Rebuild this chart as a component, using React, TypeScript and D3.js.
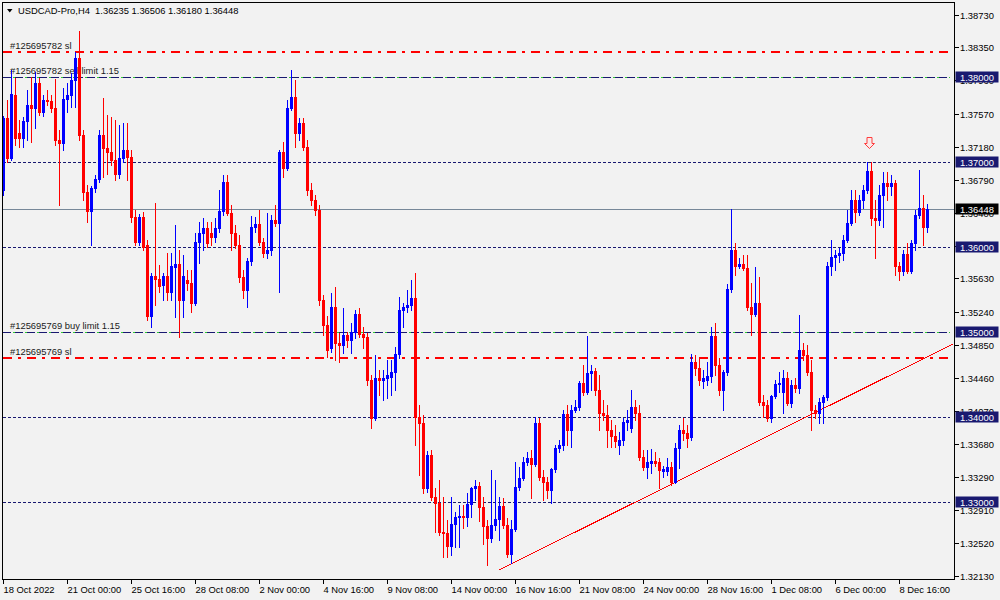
import React, { useEffect, useRef } from "react";
import * as d3 from "d3";

// USDCAD H4 bars (oldest first)
const opens = [
  1.3667, 1.3752, 1.3705, 1.3779, 1.3734, 1.3728, 1.3748, 1.3767, 1.3764, 1.3793,
  1.3759, 1.3773, 1.3772, 1.3764, 1.3726, 1.3722, 1.3774, 1.3779, 1.3796, 1.3822,
  1.3732, 1.3665, 1.3642, 1.3669, 1.3680, 1.3732, 1.3717, 1.3712, 1.3702, 1.3686,
  1.3705, 1.3714, 1.3706, 1.3635, 1.3606, 1.3635, 1.3602, 1.3519, 1.3566, 1.3562,
  1.3555, 1.3566, 1.3547, 1.3576, 1.3580, 1.3538, 1.3561, 1.3558, 1.3534, 1.3606,
  1.3616, 1.3622, 1.3616, 1.3612, 1.3622, 1.3642, 1.3676, 1.3640, 1.3616, 1.3602,
  1.3565, 1.3549, 1.3584, 1.3624, 1.3627, 1.3606, 1.3593, 1.3596, 1.3632, 1.3628,
  1.3712, 1.3693, 1.3764, 1.3776, 1.3734, 1.3746, 1.3718, 1.3667, 1.3655, 1.3644,
  1.3538, 1.3508, 1.3481, 1.3530, 1.3487, 1.3485, 1.3496, 1.3491, 1.3500, 1.3521,
  1.3498, 1.3494, 1.3444, 1.3399, 1.3446, 1.3444, 1.3446, 1.3447, 1.3453, 1.3474,
  1.3526, 1.3530, 1.3532, 1.3540, 1.3400, 1.3393, 1.3316, 1.3355, 1.3306, 1.3299,
  1.3265, 1.3264, 1.3248, 1.3274, 1.3282, 1.3284, 1.3282, 1.3298, 1.3316, 1.3319,
  1.3294, 1.3272, 1.3258, 1.3273, 1.3280, 1.3295, 1.3273, 1.3239, 1.3268, 1.3318,
  1.3328, 1.3347, 1.3352, 1.3345, 1.3393, 1.3329, 1.3324, 1.3314, 1.3339, 1.3363,
  1.3367, 1.3403, 1.3385, 1.3408, 1.3412, 1.3440, 1.3429, 1.3452, 1.3454, 1.3432,
  1.3405, 1.3402, 1.3385, 1.3378, 1.3367, 1.3373, 1.3394, 1.3387, 1.3412, 1.3405,
  1.3353, 1.3341, 1.3346, 1.3348, 1.3347, 1.3336, 1.3336, 1.3341, 1.3324, 1.3363,
  1.3385, 1.3381, 1.3376, 1.3465, 1.3458, 1.3442, 1.3444, 1.3448, 1.3495, 1.3461,
  1.3432, 1.3453, 1.3551, 1.3596, 1.3578, 1.3580, 1.3575, 1.3530, 1.3521, 1.3534,
  1.3418, 1.3414, 1.3399, 1.3425, 1.3439, 1.3429, 1.3446, 1.3416, 1.3438, 1.3434,
  1.3479, 1.3473, 1.3453, 1.3408, 1.3405, 1.3418, 1.3424, 1.3578, 1.3588, 1.3591,
  1.3593, 1.3608, 1.3628, 1.3655, 1.3641, 1.3655, 1.3667, 1.3689, 1.3634, 1.3632,
  1.3661, 1.3675, 1.3672, 1.3675, 1.3578, 1.3572, 1.3592, 1.3572, 1.3605, 1.3638,
  1.3646, 1.36235
];
const highs = [
  1.3754, 1.3773, 1.3808, 1.3799, 1.3749, 1.3753, 1.3785, 1.3800, 1.3806, 1.3799,
  1.3779, 1.3785, 1.3779, 1.3798, 1.3738, 1.3787, 1.3793, 1.3805, 1.3829, 1.3854,
  1.3738, 1.3673, 1.3672, 1.3685, 1.3738, 1.3775, 1.3755, 1.3753, 1.3749, 1.3744,
  1.3746, 1.3746, 1.3714, 1.3644, 1.3639, 1.3641, 1.3608, 1.3570, 1.3652, 1.3579,
  1.3570, 1.3593, 1.3593, 1.3626, 1.3596, 1.3591, 1.3573, 1.3573, 1.3616, 1.3629,
  1.3634, 1.3629, 1.3629, 1.3634, 1.3667, 1.3685, 1.3685, 1.3649, 1.3626, 1.3614,
  1.3573, 1.3587, 1.3636, 1.3635, 1.3644, 1.3611, 1.3640, 1.3638, 1.3649, 1.3714,
  1.3724, 1.3773, 1.3808, 1.3796, 1.3752, 1.3752, 1.3726, 1.3675, 1.3661, 1.3649,
  1.3544, 1.3519, 1.3546, 1.3553, 1.3499, 1.3528, 1.3500, 1.3511, 1.3526, 1.3528,
  1.3506, 1.3499, 1.3449, 1.3473, 1.3455, 1.3455, 1.3467, 1.3467, 1.3482, 1.3541,
  1.3534, 1.3549, 1.3561, 1.3570, 1.3414, 1.3402, 1.3360, 1.3361, 1.3316, 1.3326,
  1.3306, 1.3279, 1.3306, 1.3288, 1.3296, 1.3296, 1.3311, 1.3318, 1.3326, 1.3323,
  1.3306, 1.3279, 1.3338, 1.3326, 1.3306, 1.3305, 1.3281, 1.3279, 1.3347, 1.3341,
  1.3353, 1.3359, 1.3361, 1.3400, 1.3399, 1.3338, 1.3329, 1.3340, 1.3367, 1.3373,
  1.3408, 1.3414, 1.3414, 1.3420, 1.3442, 1.3461, 1.3495, 1.3461, 1.3458, 1.3449,
  1.3420, 1.3414, 1.3396, 1.3391, 1.3382, 1.3399, 1.3408, 1.3432, 1.3420, 1.3414,
  1.3361, 1.3361, 1.3362, 1.3359, 1.3352, 1.3342, 1.3352, 1.3347, 1.3369, 1.3391,
  1.3399, 1.3391, 1.3474, 1.3473, 1.3470, 1.3455, 1.3465, 1.3506, 1.3511, 1.3470,
  1.3455, 1.3556, 1.3645, 1.3605, 1.3587, 1.3591, 1.3591, 1.3558, 1.3576, 1.3565,
  1.3426, 1.3420, 1.3426, 1.3444, 1.3453, 1.3455, 1.3453, 1.3444, 1.3446, 1.3520,
  1.3487, 1.3485, 1.3467, 1.3414, 1.3422, 1.3426, 1.3582, 1.3608, 1.3596, 1.3599,
  1.3614, 1.3644, 1.3667, 1.3667, 1.3661, 1.3673, 1.3700, 1.3700, 1.3655, 1.3673,
  1.3688, 1.3688, 1.3685, 1.3679, 1.3582, 1.3596, 1.3605, 1.3608, 1.3644, 1.3691,
  1.3661, 1.36506
];
const lows = [
  1.3661, 1.3700, 1.3702, 1.3720, 1.3718, 1.3718, 1.3726, 1.3724, 1.3740, 1.3755,
  1.3754, 1.3767, 1.3759, 1.3720, 1.3649, 1.3714, 1.3759, 1.3765, 1.3765, 1.3726,
  1.3655, 1.3629, 1.3602, 1.3665, 1.3676, 1.3682, 1.3686, 1.3696, 1.3679, 1.3681,
  1.3700, 1.3679, 1.3629, 1.3602, 1.3602, 1.3596, 1.3514, 1.3506, 1.3532, 1.3547,
  1.3538, 1.3538, 1.3538, 1.3518, 1.3494, 1.3518, 1.3549, 1.3524, 1.3532, 1.3581,
  1.3596, 1.3600, 1.3602, 1.3606, 1.3618, 1.3638, 1.3638, 1.3596, 1.3599, 1.3559,
  1.3540, 1.3530, 1.3579, 1.3618, 1.3602, 1.3588, 1.3587, 1.3591, 1.3625, 1.3547,
  1.3682, 1.3691, 1.3761, 1.3718, 1.3726, 1.3714, 1.3661, 1.3649, 1.3638, 1.3532,
  1.3496, 1.3471, 1.3476, 1.3467, 1.3465, 1.3475, 1.3482, 1.3475, 1.3493, 1.3494,
  1.3481, 1.3438, 1.3387, 1.3396, 1.3426, 1.3420, 1.3422, 1.3426, 1.3432, 1.3469,
  1.3506, 1.3524, 1.3526, 1.3367, 1.3332, 1.3311, 1.3312, 1.3302, 1.3265, 1.3261,
  1.3235, 1.3235, 1.3238, 1.3247, 1.3247, 1.3269, 1.3272, 1.3282, 1.3302, 1.3278,
  1.3251, 1.3226, 1.3253, 1.3267, 1.3255, 1.3269, 1.3235, 1.3228, 1.3266, 1.3314,
  1.3326, 1.3344, 1.3305, 1.3342, 1.3326, 1.3302, 1.3305, 1.3299, 1.3335, 1.3359,
  1.3361, 1.3367, 1.3365, 1.3406, 1.3408, 1.3426, 1.3427, 1.3432, 1.3426, 1.3385,
  1.3396, 1.3365, 1.3365, 1.3365, 1.3356, 1.3367, 1.3385, 1.3382, 1.3397, 1.3349,
  1.3338, 1.3328, 1.3334, 1.3342, 1.3316, 1.3330, 1.3332, 1.3320, 1.3322, 1.3340,
  1.3373, 1.3365, 1.3373, 1.3449, 1.3438, 1.3434, 1.3438, 1.3441, 1.3449, 1.3426,
  1.3408, 1.3449, 1.3547, 1.3567, 1.3575, 1.3573, 1.3526, 1.3496, 1.3519, 1.3414,
  1.3400, 1.3395, 1.3394, 1.3422, 1.3429, 1.3405, 1.3414, 1.3412, 1.3429, 1.3428,
  1.3467, 1.3449, 1.3385, 1.3399, 1.3393, 1.3393, 1.3420, 1.3567, 1.3573, 1.3582,
  1.3585, 1.3606, 1.3626, 1.3629, 1.3638, 1.3646, 1.3664, 1.3626, 1.3587, 1.3626,
  1.3624, 1.3655, 1.3661, 1.3567, 1.3561, 1.3567, 1.3570, 1.3569, 1.3596, 1.3634,
  1.3602, 1.36180
];
const closes = [
  1.3752, 1.3705, 1.3780, 1.3728, 1.3728, 1.3748, 1.3767, 1.3764, 1.3793, 1.3759,
  1.3773, 1.3772, 1.3764, 1.3726, 1.3722, 1.3774, 1.3779, 1.3796, 1.3822, 1.3732,
  1.3665, 1.3642, 1.3669, 1.3680, 1.3732, 1.3717, 1.3712, 1.3702, 1.3686, 1.3705,
  1.3714, 1.3706, 1.3635, 1.3606, 1.3635, 1.3600, 1.3519, 1.3566, 1.3562, 1.3554,
  1.3566, 1.3547, 1.3578, 1.3580, 1.3538, 1.3566, 1.3558, 1.3534, 1.3606, 1.3616,
  1.3622, 1.3605, 1.3612, 1.3622, 1.3642, 1.3676, 1.3640, 1.3616, 1.3602, 1.3565,
  1.3549, 1.3584, 1.3624, 1.3627, 1.3606, 1.3593, 1.3596, 1.3632, 1.3628, 1.3712,
  1.3693, 1.3764, 1.3776, 1.3734, 1.3746, 1.3718, 1.3667, 1.3655, 1.3644, 1.3538,
  1.3508, 1.3479, 1.3530, 1.3487, 1.3485, 1.3496, 1.3491, 1.3500, 1.3521, 1.3498,
  1.3494, 1.3444, 1.3399, 1.3446, 1.3444, 1.3446, 1.3449, 1.3453, 1.3474, 1.3526,
  1.3530, 1.3532, 1.3540, 1.3400, 1.3393, 1.3316, 1.3355, 1.3306, 1.3299, 1.3265,
  1.3264, 1.3248, 1.3274, 1.3282, 1.3284, 1.3282, 1.3298, 1.3316, 1.3319, 1.3294,
  1.3272, 1.3258, 1.3273, 1.3280, 1.3295, 1.3273, 1.3239, 1.3268, 1.3318, 1.3328,
  1.3347, 1.3352, 1.3345, 1.3393, 1.3329, 1.3324, 1.3314, 1.3339, 1.3363, 1.3367,
  1.3403, 1.3385, 1.3408, 1.3412, 1.3440, 1.3429, 1.3452, 1.3454, 1.3432, 1.3405,
  1.3402, 1.3385, 1.3378, 1.3372, 1.3373, 1.3394, 1.3397, 1.3412, 1.3405, 1.3353,
  1.3341, 1.3347, 1.3348, 1.3346, 1.3338, 1.3339, 1.3341, 1.3324, 1.3363, 1.3385,
  1.3381, 1.3375, 1.3465, 1.3458, 1.3444, 1.3446, 1.3448, 1.3495, 1.3461, 1.3432,
  1.3453, 1.3551, 1.3596, 1.3578, 1.3580, 1.3575, 1.3530, 1.3521, 1.3534, 1.3418,
  1.3414, 1.3399, 1.3425, 1.3439, 1.3440, 1.3446, 1.3416, 1.3438, 1.3434, 1.3479,
  1.3473, 1.3453, 1.3408, 1.3405, 1.3418, 1.3424, 1.3578, 1.3588, 1.3591, 1.3593,
  1.3608, 1.3628, 1.3655, 1.3641, 1.3655, 1.3667, 1.3689, 1.3634, 1.3632, 1.3661,
  1.3675, 1.3672, 1.3675, 1.3578, 1.3572, 1.3592, 1.3572, 1.3605, 1.3638, 1.3646,
  1.3624, 1.36448
];

const timeTickBars = [0, 16, 32, 48, 64, 80, 96, 112, 128, 144, 160, 176, 192, 208, 224];
const timeTickLabels = [
  "18 Oct 2022", "21 Oct 00:00", "25 Oct 16:00", "28 Oct 08:00", "2 Nov 00:00",
  "4 Nov 16:00", "9 Nov 08:00", "14 Nov 00:00", "16 Nov 16:00", "21 Nov 08:00",
  "24 Nov 00:00", "28 Nov 16:00", "1 Dec 08:00", "6 Dec 00:00", "8 Dec 16:00"
];
const priceTicks = [
  1.3873, 1.3835, 1.3796, 1.3757, 1.3718, 1.3679, 1.364, 1.3601, 1.3563,
  1.3524, 1.3485, 1.3446, 1.3407, 1.3368, 1.3329, 1.3291, 1.3252, 1.3213
];

const levelPrices = [1.38, 1.37, 1.36, 1.35, 1.34, 1.33];
const orderPrices = [1.383, 1.38, 1.35, 1.3469];
const orderLabels = ["#125695782 sl", "#125695782 sell limit 1.15", "#125695769 buy limit 1.15", "#125695769 sl"];
const orderKinds = ["sl", "limit", "limit", "sl"];
const bidPrice = 1.36448;
const trendBars = [124, 237.5];
const trendPrices = [1.322, 1.3486];
const arrowBar = 216.5;
const arrowPrice = 1.3716;
const symbol = "USDCAD-Pro,H4";

const FONT = "'Liberation Sans', Arial, sans-serif";
const FONT_SIZE = 9.4;
const BG = "#f2f2f2";
const NAVY = "#191970";
const BULL = "#0000ff";
const BEAR = "#ff0000";

const PLOT = { left: 2.5, top: 2.5, right: 954.5, bottom: 579.5 };

const App = () => {
  const svgRef = useRef(null);

  useEffect(() => {
    const svg = d3.select(svgRef.current);
    svg.selectAll("*").remove();

    const x = d3.scaleLinear().domain([0, 231]).range([3, 927]);
    const y = d3.scaleLinear().domain([1.3873, 1.3213]).range([15, 576]);
    const py = (p) => Math.round(y(p)) + 0.5;
    const fmt = d3.format(".5f");

    const bars = opens.map((o, i) => ({ i, o, h: highs[i], l: lows[i], c: closes[i] }));

    svg.append("rect").attr("width", 1000).attr("height", 600).attr("fill", BG);

    svg.append("defs").append("clipPath").attr("id", "plotclip")
      .append("rect")
      .attr("x", PLOT.left + 0.5).attr("y", PLOT.top + 0.5)
      .attr("width", PLOT.right - PLOT.left - 1).attr("height", PLOT.bottom - PLOT.top - 1);

    const objs = svg.append("g").attr("clip-path", "url(#plotclip)");

    // order levels: green under navy for limits, red dash-dot for stops
    orderPrices.forEach((p, k) => {
      if (orderKinds[k] === "limit") {
        objs.append("line")
          .attr("x1", 3).attr("x2", 950).attr("y1", py(p)).attr("y2", py(p))
          .attr("stroke", "#32cd32").attr("stroke-width", 1)
          .attr("stroke-dasharray", "3,9").attr("stroke-dashoffset", 2)
          .attr("shape-rendering", "crispEdges");
      } else {
        const yy = Math.round(y(p));
        objs.append("line")
          .attr("x1", 3).attr("x2", 949).attr("y1", yy).attr("y2", yy)
          .attr("stroke", "#ff0000").attr("stroke-width", 2)
          .attr("stroke-dasharray", "9,6,3,6")
          .attr("shape-rendering", "crispEdges");
      }
    });

    // horizontal levels
    levelPrices.forEach((p) => {
      const withOrder = orderPrices.some((q, k) => q === p && orderKinds[k] === "limit");
      objs.append("line")
        .attr("x1", 3).attr("x2", 950).attr("y1", py(p)).attr("y2", py(p))
        .attr("stroke", NAVY).attr("stroke-width", 1)
        .attr("stroke-dasharray", withOrder ? "8,4" : "3,2")
        .attr("shape-rendering", "crispEdges");
    });

    // bid line
    objs.append("line")
      .attr("x1", 3).attr("x2", 954).attr("y1", py(bidPrice)).attr("y2", py(bidPrice))
      .attr("stroke", "#778899").attr("stroke-width", 1)
      .attr("shape-rendering", "crispEdges");

    // order labels
    orderPrices.forEach((p, k) => {
      objs.append("text")
        .attr("x", 10).attr("y", Math.round(y(p)) - 3)
        .attr("font-family", FONT).attr("font-size", FONT_SIZE)
        .attr("fill", "#1a1a1a")
        .text(orderLabels[k]);
    });

    // trend line
    objs.append("line")
      .attr("x1", x(trendBars[0])).attr("y1", y(trendPrices[0]))
      .attr("x2", x(trendBars[1])).attr("y2", y(trendPrices[1]))
      .attr("stroke", "#ff0000").attr("stroke-width", 1)
      .attr("shape-rendering", "crispEdges");

    // sell arrow
    const ax = Math.round(x(arrowBar)) + 0.5;
    const ay = Math.round(y(arrowPrice)) + 0.5;
    objs.append("path")
      .attr("d", `M${ax - 2.5},${ay - 11} L${ax + 2.5},${ay - 11} L${ax + 2.5},${ay - 5} L${ax + 5},${ay - 5} L${ax},${ay} L${ax - 5},${ay - 5} L${ax - 2.5},${ay - 5} Z`)
      .attr("fill", "#fbeaea").attr("stroke", "#ff3c3c").attr("stroke-width", 1);

    // candles
    const candles = objs.append("g");
    bars.forEach((b) => {
      const cx = Math.round(x(b.i));
      const col = b.c >= b.o ? BULL : BEAR;
      const yh = Math.round(y(b.h));
      const yl = Math.round(y(b.l));
      candles.append("rect")
        .attr("x", cx).attr("y", yh).attr("width", 1).attr("height", Math.max(1, yl - yh + 1))
        .attr("fill", col).attr("shape-rendering", "crispEdges");
      const yt = Math.round(y(Math.max(b.o, b.c)));
      const yb = Math.round(y(Math.min(b.o, b.c)));
      candles.append("rect")
        .attr("x", cx - 1).attr("y", yt).attr("width", 3).attr("height", Math.max(1, yb - yt + 1))
        .attr("fill", col).attr("shape-rendering", "crispEdges");
    });

    // frame
    svg.append("rect")
      .attr("x", PLOT.left).attr("y", PLOT.top)
      .attr("width", PLOT.right - PLOT.left).attr("height", PLOT.bottom - PLOT.top)
      .attr("fill", "none").attr("stroke", "#000").attr("stroke-width", 1);

    // price axis
    priceTicks.forEach((p) => {
      const yy = py(p);
      svg.append("line")
        .attr("x1", PLOT.right).attr("x2", PLOT.right + 4).attr("y1", yy).attr("y2", yy)
        .attr("stroke", "#000").attr("shape-rendering", "crispEdges");
      svg.append("text")
        .attr("x", 960).attr("y", yy + 3.5)
        .attr("font-family", FONT).attr("font-size", FONT_SIZE).attr("fill", "#000")
        .text(fmt(p));
    });

    // level boxes
    const box = (p, fill) => {
      const yy = Math.round(y(p));
      svg.append("rect")
        .attr("x", 955.5).attr("y", yy - 5.5).attr("width", 43).attr("height", 11)
        .attr("fill", fill);
      svg.append("text")
        .attr("x", 960).attr("y", yy + 4)
        .attr("font-family", FONT).attr("font-size", FONT_SIZE).attr("fill", "#fff")
        .text(fmt(p));
    };
    levelPrices.forEach((p) => box(p, NAVY));
    box(bidPrice, "#000");

    // time axis
    timeTickBars.forEach((bi, k) => {
      const xx = Math.round(x(bi)) + 0.5;
      svg.append("line")
        .attr("x1", xx).attr("x2", xx).attr("y1", PLOT.bottom).attr("y2", PLOT.bottom + 4)
        .attr("stroke", "#000").attr("shape-rendering", "crispEdges");
      svg.append("text")
        .attr("x", xx).attr("y", 592.5)
        .attr("font-family", FONT).attr("font-size", FONT_SIZE).attr("fill", "#000")
        .text(timeTickLabels[k]);
    });

    // header
    const last = bars[bars.length - 1];
    svg.append("path").attr("d", "M7,9 L12.5,9 L9.75,12.5 Z").attr("fill", "#000");
    svg.append("text")
      .attr("x", 18).attr("y", 13.5)
      .attr("font-family", FONT).attr("font-size", FONT_SIZE).attr("fill", "#000")
      .attr("xml:space", "preserve")
      .text(`${symbol}  ${fmt(last.o)} ${fmt(last.h)} ${fmt(last.l)} ${fmt(last.c)}`);
  }, []);

  return (
    <svg
      ref={svgRef}
      width={1000}
      height={600}
      style={{ position: "absolute", left: 0, top: 0, display: "block" }}
    />
  );
};

export default App;
